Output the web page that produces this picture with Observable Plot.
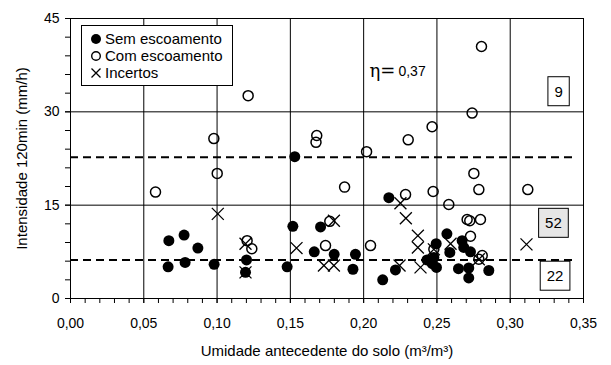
<!DOCTYPE html>
<html>
<head>
<meta charset="utf-8">
<script src="https://cdn.jsdelivr.net/npm/d3@7"></script>
<script src="https://cdn.jsdelivr.net/npm/@observablehq/plot@0.6"></script>
<style>
  body { margin: 0; background: #fff; font-family: Arial, "Liberation Sans", sans-serif; }
  #chart { position: relative; width: 611px; height: 365px; }
  #legenda {
    position: absolute; left: 81px; top: 25px; width: 152px; height: 61px;
    border: 1px solid #000; background: #fff; font-size: 15px; color: #000;
    padding-top: 4px; box-sizing: border-box;
  }
  #legenda div { height: 17px; line-height: 17px; display: flex; align-items: center; }
  #legenda svg { margin-left: 8px; margin-right: 3px; }
</style>
</head>
<body>
<div id="chart"></div>
<script>
// Umidade antecedente (m³/m³) e intensidade em 120 min (mm/h) por tipo de evento
const semX = [0.0671, 0.0775, 0.0869, 0.0666, 0.0782, 0.0980, 0.1201, 0.1194, 0.1530, 0.1517,
              0.1478, 0.1706, 0.1663, 0.1799, 0.1944, 0.1927, 0.2172, 0.2130, 0.2217, 0.2432,
              0.2468, 0.2497, 0.2479, 0.2495, 0.2568, 0.2588, 0.2672, 0.2683, 0.2729, 0.2647,
              0.2717, 0.2717, 0.2854];
const semY = [9.3, 10.2, 8.1, 5.1, 5.8, 5.5, 6.2, 4.2, 22.8, 11.6,
              5.1, 11.5, 7.5, 7.1, 7.1, 4.7, 16.2, 3.0, 4.6, 6.2,
              5.6, 5.0, 6.6, 8.8, 10.4, 7.4, 9.3, 8.2, 7.5, 4.8,
              4.9, 3.3, 4.5];

const comX = [0.1212, 0.0978, 0.1680, 0.1675, 0.2020, 0.2304, 0.2467, 0.2804, 0.2740, 0.0580,
              0.1001, 0.1205, 0.1237, 0.1870, 0.2286, 0.2474, 0.1769, 0.1740, 0.2047, 0.2752,
              0.2786, 0.3120, 0.2581, 0.2706, 0.2724, 0.2797, 0.2729, 0.2809, 0.2786, 0.2479];
const comY = [32.6, 25.7, 26.2, 25.1, 23.6, 25.5, 27.6, 40.5, 29.8, 17.1,
              20.1, 9.3, 8.0, 17.9, 16.7, 17.2, 12.4, 8.5, 8.5, 20.1,
              17.5, 17.5, 15.1, 12.7, 12.5, 12.7, 10.0, 6.9, 6.3, 7.9];

const incX = [0.1005, 0.1194, 0.1194, 0.1542, 0.1797, 0.1729, 0.1797, 0.2251, 0.2288, 0.2370,
              0.2370, 0.2388, 0.2245, 0.2479, 0.2593, 0.2786, 0.3111];
const incY = [13.6, 8.8, 4.2, 8.1, 12.5, 5.3, 5.3, 15.3, 12.9, 10.1,
              8.2, 5.0, 5.3, 7.9, 8.8, 6.3, 8.7];

// Eixos
const xTicks = [0, 0.05, 0.10, 0.15, 0.20, 0.25, 0.30, 0.35];
const xMinor = d3.range(0, 36).map(i => i / 100);
const yTicks = [0, 15, 30, 45];
const yMinor = d3.range(0, 46, 3);
const yGrid = [15, 30];

// Limiares de intensidade (linhas tracejadas)
const limiares = [22.7, 6.2];

// Número de eventos em cada faixa
const contagemTexto = ["9", "52", "22"];
const contagemX = [0.3330, 0.3295, 0.3306];
const contagemY = [33.2, 12.05, 3.55];
const contagemFundo = ["#fff", "#e6e6e6", "#fff"];

const rotuloEta = "η=";
const valorEta = "0,37";

const toPoints = (xs, ys) => xs.map((x, i) => ({x, y: ys[i]}));
const sem = toPoints(semX, semY);
const com = toPoints(comX, comY);
const inc = toPoints(incX, incY);
const contagens = contagemTexto.map((t, i) => ({t, x: contagemX[i], y: contagemY[i], fundo: contagemFundo[i]}));

const fmtX = d => d.toFixed(2).replace(".", ",");
const font = "Arial, 'Liberation Sans', sans-serif";

const chart = Plot.plot({
  width: 611,
  height: 365,
  marginLeft: 70,
  marginRight: 28,
  marginTop: 18,
  marginBottom: 67,
  style: {fontFamily: font, fontSize: "14px", color: "#000", background: "#fff", overflow: "visible"},
  x: {domain: [0, 0.35]},
  y: {domain: [0, 45]},
  marks: [
    Plot.gridX(xTicks, {stroke: "#000", strokeOpacity: 1, strokeWidth: 1}),
    Plot.gridY(yGrid, {stroke: "#000", strokeOpacity: 1, strokeWidth: 1}),
    Plot.ruleY(limiares, {x1: 0, x2: 0.3425, stroke: "#000", strokeWidth: 2, strokeDasharray: "8,5"}),
    Plot.axisX(xMinor, {tickSize: 5, tickFormat: () => "", label: null}),
    Plot.axisX(xTicks, {tickSize: 5, tickPadding: 15, tickFormat: fmtX, label: null, fontSize: 14}),
    Plot.axisY(yMinor, {tickSize: 5, tickFormat: () => "", label: null}),
    Plot.axisY(yTicks, {tickSize: 5, tickPadding: 6, label: null, fontSize: 14}),
    Plot.text(["Umidade antecedente do solo (m³/m³)"], {frameAnchor: "bottom", dy: 57, fontSize: 15, text: d => d}),
    Plot.text(["Intensidade 120min (mm/h)"], {frameAnchor: "left", dx: -48, rotate: -90, textAnchor: "middle", fontSize: 15, text: d => d}),
    Plot.dot(sem, {x: "x", y: "y", r: 5.5, fill: "#000", stroke: "none"}),
    Plot.dot(com, {x: "x", y: "y", r: 5, fill: "none", stroke: "#000", strokeWidth: 1.5}),
    Plot.dot(inc, {x: "x", y: "y", symbol: "times", r: 5.5, stroke: "#000", strokeWidth: 1.3}),
    Plot.text(contagens, {x: "x", y: "y", text: "t", fontSize: 15}),
    Plot.text([rotuloEta], {x: 0.2217, y: 36.5, text: d => d, textAnchor: "end", fontSize: 18, fontFamily: "DejaVu Serif, serif"}),
    Plot.text([valorEta], {x: 0.2217, y: 36.5, text: d => d, textAnchor: "start", dx: 3, fontSize: 14}),
    Plot.frame({stroke: "#000", strokeWidth: 1})
  ]
});

document.getElementById("chart").appendChild(chart);

// Moldura em volta de cada contagem, ajustada ao texto
const svgNS = "http://www.w3.org/2000/svg";
chart.querySelectorAll("text").forEach(node => {
  const i = contagemTexto.indexOf(node.textContent);
  if (i < 0) return;
  const b = node.getBBox();
  const padX = 6.5, padY = 6;
  const r = document.createElementNS(svgNS, "rect");
  r.setAttribute("x", b.x - padX);
  r.setAttribute("y", b.y - padY);
  r.setAttribute("width", b.width + 2 * padX);
  r.setAttribute("height", b.height + 2 * padY);
  r.setAttribute("fill", contagemFundo[i]);
  r.setAttribute("stroke", "#000");
  r.setAttribute("stroke-width", 1);
  if (node.getAttribute("transform")) r.setAttribute("transform", node.getAttribute("transform"));
  node.parentNode.insertBefore(r, node);
});

// Legenda
const legenda = document.createElement("div");
legenda.id = "legenda";
const itens = [
  {nome: "Sem escoamento", svg: '<circle cx="6" cy="6" r="5" fill="#000"/>'},
  {nome: "Com escoamento", svg: '<circle cx="6" cy="6" r="4.3" fill="none" stroke="#000" stroke-width="1.4"/>'},
  {nome: "Incertos", svg: '<path d="M1.5,1.5L10.5,10.5M10.5,1.5L1.5,10.5" stroke="#000" stroke-width="1.3"/>'}
];
itens.forEach(it => {
  const row = document.createElement("div");
  row.innerHTML = `<svg width="12" height="12">${it.svg}</svg><span>${it.nome}</span>`;
  legenda.appendChild(row);
});
document.getElementById("chart").appendChild(legenda);
</script>
</body>
</html>
